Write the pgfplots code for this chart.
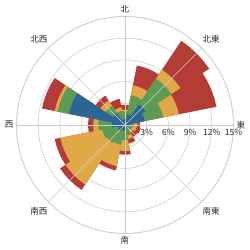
\documentclass[border=0pt]{standalone}
\usepackage{fontspec}
\setmainfont{Noto Sans CJK JP}
\usepackage{pgfplots}
\pgfplotsset{compat=1.18}
\usepgfplotslibrary{polar}

\definecolor{cb}{RGB}{44,100,150}
\definecolor{cg}{RGB}{93,155,85}
\definecolor{cy}{RGB}{225,168,72}
\definecolor{cr}{RGB}{180,60,55}
\definecolor{gridc}{RGB}{205,205,205}

% cumulative radius (%) of each layer, directions N, NNE, NE, ..., NNW (clockwise)
\def\layerR{2.8,8.4,14.0,12.9,2.1,2.2,2.0,2.6,4.1,6.4,10.8,9.9,5.1,11.7,4.9,3.7}
\def\layerY{2.1,5.6,9.2,7.6,1.7,1.6,1.3,2.0,3.6,5.8,9.9,9.1,4.4,9.9,4.1,2.5}
\def\layerG{1.9,4.2,7.7,5.4,1.3,1.0,0.9,1.5,2.1,2.8,3.0,3.2,3.7,9.5,3.2,2.0}
\def\layerB{0.8,1.5,3.4,2.8,0.8,0.5,0.4,0.5,0.7,0.8,1.0,1.0,1.8,7.9,2.0,0.8}

% build the outline of one layer: each direction is a 22.5 degree sector
\newcommand\mkpetal[1]{%
  \gdef\coords{}%
  \foreach \r [count=\i from 0] in #1 {%
    \pgfmathsetmacro\aA{90-22.5*\i+11.25}%
    \pgfmathsetmacro\aB{90-22.5*\i+5.625}%
    \pgfmathsetmacro\aC{90-22.5*\i}%
    \pgfmathsetmacro\aD{90-22.5*\i-5.625}%
    \pgfmathsetmacro\aE{90-22.5*\i-11.25}%
    \xdef\coords{\coords (\aA,\r) (\aB,\r) (\aC,\r) (\aD,\r) (\aE,\r)}%
  }%
}

\begin{document}
\begin{tikzpicture}
\begin{polaraxis}[
  scale only axis,
  width=217pt, height=217pt,
  ymin=0, ymax=15,
  xtick={0,45,...,315},
  xticklabels={東,北東,北,北西,西,南西,南,南東},
  ytick={3,6,9,12,15},
  yticklabel={\pgfmathprintnumber{\tick}\%},
  /pgf/number format/assume math mode=true,
  xmajorgrids=false,
  ymajorgrids=true,
  major grid style={gridc, line width=0.6pt},
  axis line style={gridc, line width=0.6pt},
  major tick length=0pt,
  tick label style={font=\fontsize{8.5}{10}\selectfont, text=black!85},
  xticklabel style={inner sep=3pt},
  yticklabel style={anchor=north, inner sep=1pt, yshift=-3pt},
]
\coordinate (O) at (axis cs:0,0);
\mkpetal{\layerR}
\edef\tmp{\noexpand\addplot[fill=cr, draw=none] coordinates {\coords};}\tmp
\mkpetal{\layerY}
\edef\tmp{\noexpand\addplot[fill=cy, draw=none] coordinates {\coords};}\tmp
\mkpetal{\layerG}
\edef\tmp{\noexpand\addplot[fill=cg, draw=none] coordinates {\coords};}\tmp
\mkpetal{\layerB}
\edef\tmp{\noexpand\addplot[fill=cb, draw=none] coordinates {\coords};}\tmp
\pgfplotsinvokeforeach{0,45,...,315}{\draw[gridc, line width=0.6pt] (axis cs:#1,0) -- (axis cs:#1,15);}
\end{polaraxis}
\pgfresetboundingbox
\path[use as bounding box] (O) ++(-125pt,-125pt) rectangle ++(250pt,250pt);
\end{tikzpicture}
\end{document}
